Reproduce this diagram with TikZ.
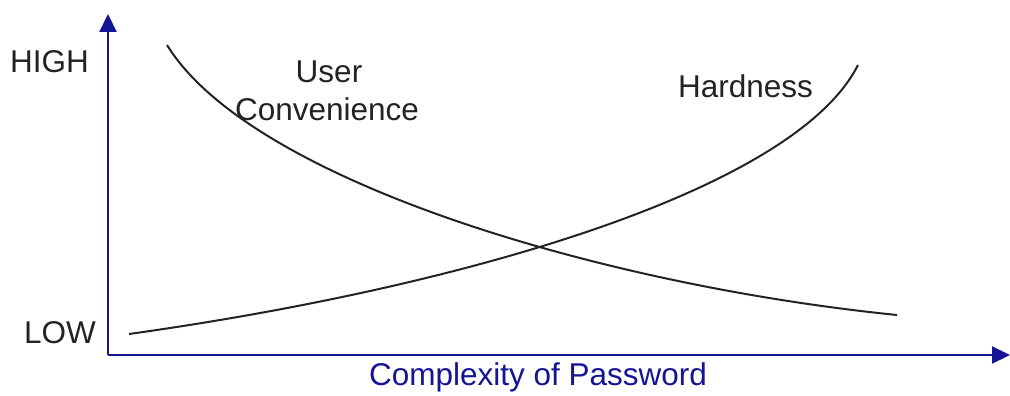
\documentclass[tikz,border=0pt]{standalone}
\usepackage{fontspec}
\setmainfont{Liberation Sans}
\usetikzlibrary{arrows.meta}
\definecolor{axisblue}{RGB}{20,20,150}
\definecolor{txtgray}{RGB}{35,35,35}
\begin{document}
\begin{tikzpicture}[x=1pt,y=-1pt,
  axisline/.style={draw=axisblue,line width=2.2pt,-{Triangle[width=17pt,length=18pt]}},
  curveline/.style={draw=txtgray,line width=2pt},
  lbl/.style={inner sep=0pt,text=txtgray,font=\fontsize{31.5}{36}\selectfont},
  axlbl/.style={inner sep=0pt,text=axisblue,font=\fontsize{31.5}{36}\selectfont}]
\useasboundingbox (0,0) rectangle (1010,396);
\coordinate (o) at (108,355);
\coordinate (ytop) at (108,14);
\coordinate (xend) at (1010,355);
\draw[axisline] (o) -- (ytop);
\draw[axisline] (o) -- (xend);
% User Convenience curve
\coordinate (u0) at (167,45);
\coordinate (u1) at (897,315);
\draw[curveline] (u0) .. controls (250,180) and (600,285) .. (u1);
% Hardness curve
\coordinate (h0) at (129,334);
\coordinate (h1) at (858,65);
\draw[curveline] (h0) .. controls (465,287) and (795,190) .. (h1);
\node[lbl,anchor=base west] (high) at (10,73) {HIGH};
\node[lbl,anchor=base east] (low) at (96,343) {LOW};
\node[lbl,anchor=base] (user) at (329,83) {User};
\node[lbl,anchor=base] (conv) at (327,121) {Convenience};
\node[lbl,anchor=base] (hard) at (745.5,97) {Hardness};
\node[axlbl,anchor=base] (cplx) at (538,385) {Complexity of Password};
\end{tikzpicture}
\end{document}
